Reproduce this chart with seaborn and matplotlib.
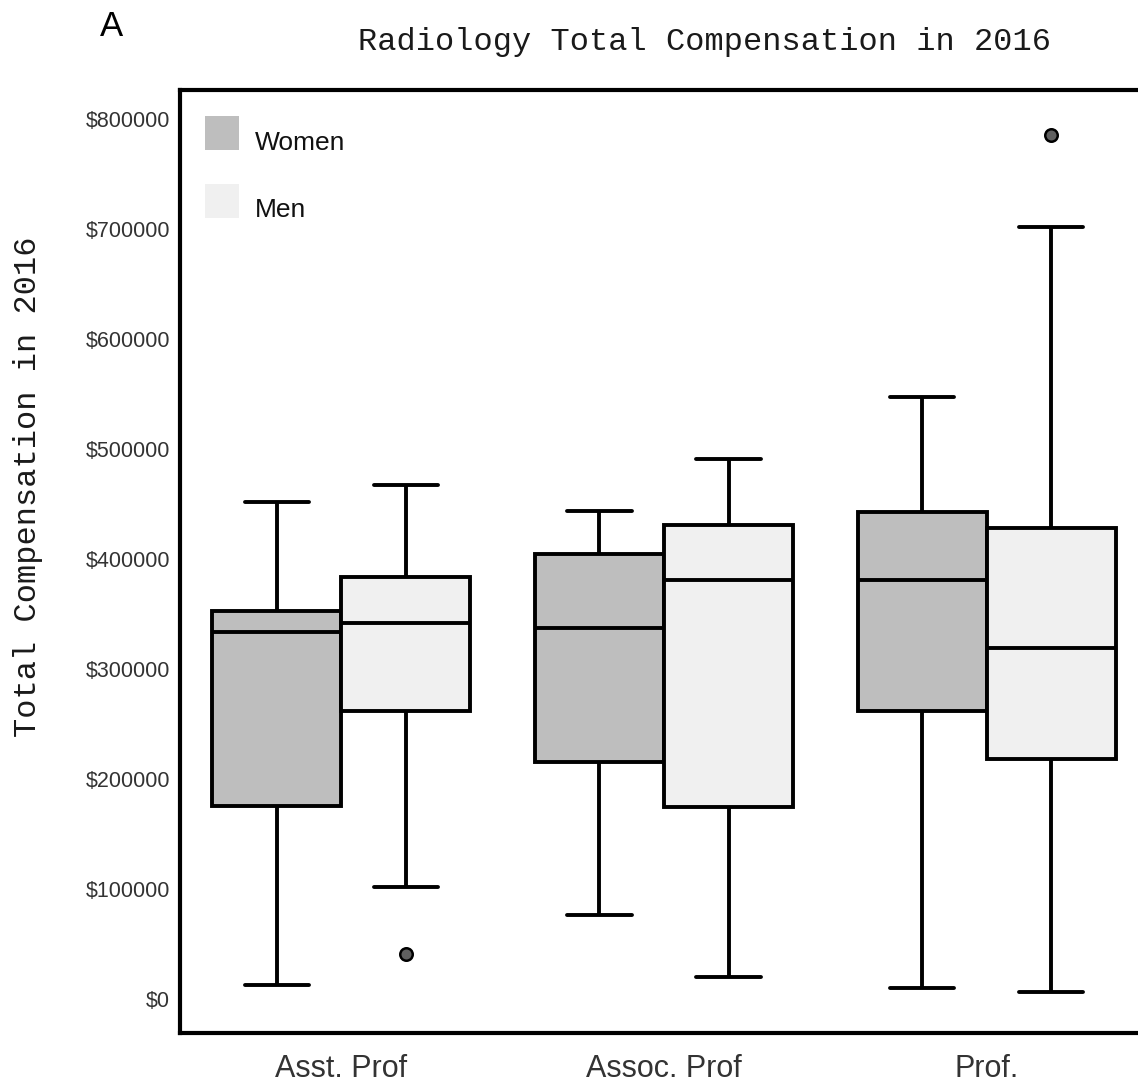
import numpy as np
import pandas as pd
import matplotlib
matplotlib.use("Agg")
import matplotlib.pyplot as plt
from matplotlib.patches import Patch, Rectangle
from matplotlib.legend_handler import HandlerPatch
from matplotlib.ticker import FuncFormatter
import seaborn as sns

# ---- data (in dollars) ----
ranks = ["Asst. Prof", "Assoc. Prof", "Prof."]
groups = ["Women", "Men"]

# five-number summaries per (rank, group) in thousands of dollars
women_whislo = [12.7, 76.4, 10.0]
women_q1     = [175.5, 215.5, 261.8]
women_med    = [333.6, 337.3, 380.9]
women_q3     = [352.7, 404.5, 442.7]
women_whishi = [451.8, 443.6, 547.3]
women_fliers = [[], [], []]

men_whislo = [101.8, 20.0, 6.4]
men_q1     = [261.8, 174.5, 218.2]
men_med    = [341.8, 380.9, 319.0]
men_q3     = [383.6, 430.9, 428.2]
men_whishi = [467.0, 490.9, 701.8]
men_fliers = [[40.9], [], [785.5]]

yticks = [0, 100000, 200000, 300000, 400000, 500000, 600000, 700000, 800000]

# ---- build observations that reproduce those summaries ----
def sample(lo, q1, med, q3, hi, fl):
    fl = list(fl)
    low = [f for f in fl if f < lo]
    high = [f for f in fl if f > hi]
    core = [lo, q1, q1, med, med, med, q3, q3, hi]
    if low:
        core = low + [lo, q1, med, med, med, q3, q3, hi]
    if high:
        core = [lo, q1, q1, med, med, med, q3, hi] + high
    return [v * 1000 for v in core]

rows = []
summ = {
    "Women": (women_whislo, women_q1, women_med, women_q3, women_whishi, women_fliers),
    "Men": (men_whislo, men_q1, men_med, men_q3, men_whishi, men_fliers),
}
for g in groups:
    lo, q1, md, q3, hi, fl = summ[g]
    for i, r in enumerate(ranks):
        for v in sample(lo[i], q1[i], md[i], q3[i], hi[i], fl[i]):
            rows.append({"rank": r, "sex": g, "value": v})
df = pd.DataFrame(rows)

# ---- style ----
sns.set_style("white")
plt.rcParams["font.family"] = ["Liberation Sans", "DejaVu Sans"]

W, H = 1138, 1082
fig = plt.figure(figsize=(W / 100, H / 100), dpi=100)
ax = fig.add_axes([180 / W, (H - 1033) / H, (1148 - 180) / W, (1033 - 90) / H])

palette = {"Women": "#bebebe", "Men": "#f0f0f0"}
sns.boxplot(
    data=df, x="rank", y="value", hue="sex", order=ranks, hue_order=groups,
    palette=palette, saturation=1, width=0.8, gap=0,
    linewidth=2.8, linecolor="black",
    flierprops=dict(marker="o", markerfacecolor="#5f5f5f", markeredgecolor="black",
                    markersize=9, markeredgewidth=1.8),
    legend=False, ax=ax,
)

ax.set_xlim(-0.5, 2.5)
ax.set_ylim(-30900, 826400)
ax.set_yticks(yticks)
ax.yaxis.set_major_formatter(FuncFormatter(lambda v, p: f"${int(v)}"))
ax.set_xlabel("")
ax.set_ylabel("")
ax.tick_params(axis="y", length=0, pad=7, labelsize=15.5, labelcolor="#333333")
ax.tick_params(axis="x", length=0, pad=15, labelsize=22, labelcolor="#333333")
for s in ["left", "bottom", "top", "right"]:
    ax.spines[s].set_linewidth(3.0)
    ax.spines[s].set_color("black")


def raised_patch(legend, orig_handle, xdescent, ydescent, width, height, fontsize):
    # swatch sits a little above the label, as in the reference
    return Rectangle((-xdescent, -ydescent + 0.3 * fontsize), width, height)


handles = [Patch(facecolor=palette[g], edgecolor="none") for g in groups]
leg = ax.legend(handles, groups, loc="upper left", bbox_to_anchor=(0.0, 0.9905),
                frameon=False, fontsize=19, handlelength=1.3, handleheight=1.6,
                labelspacing=1.28, handletextpad=0.6, borderaxespad=0.55,
                handler_map={Patch: HandlerPatch(patch_func=raised_patch)})
for t in leg.get_texts():
    t.set_color("#111111")

mono = ["Liberation Mono", "DejaVu Sans Mono"]
fig.text(705 / W, 1 - 42 / H, "Radiology Total Compensation in 2016",
         family=mono, fontsize=23, ha="center", va="center", color="#1a1a1a")
fig.text(28 / W, 1 - 487 / H, "Total Compensation in 2016", family=mono,
         fontsize=23, rotation=90, ha="center", va="center", color="#1a1a1a")
fig.text(112 / W, 1 - 27 / H, "A", fontsize=25, ha="center", va="center", color="black")

fig.savefig("out.png", dpi=100)
